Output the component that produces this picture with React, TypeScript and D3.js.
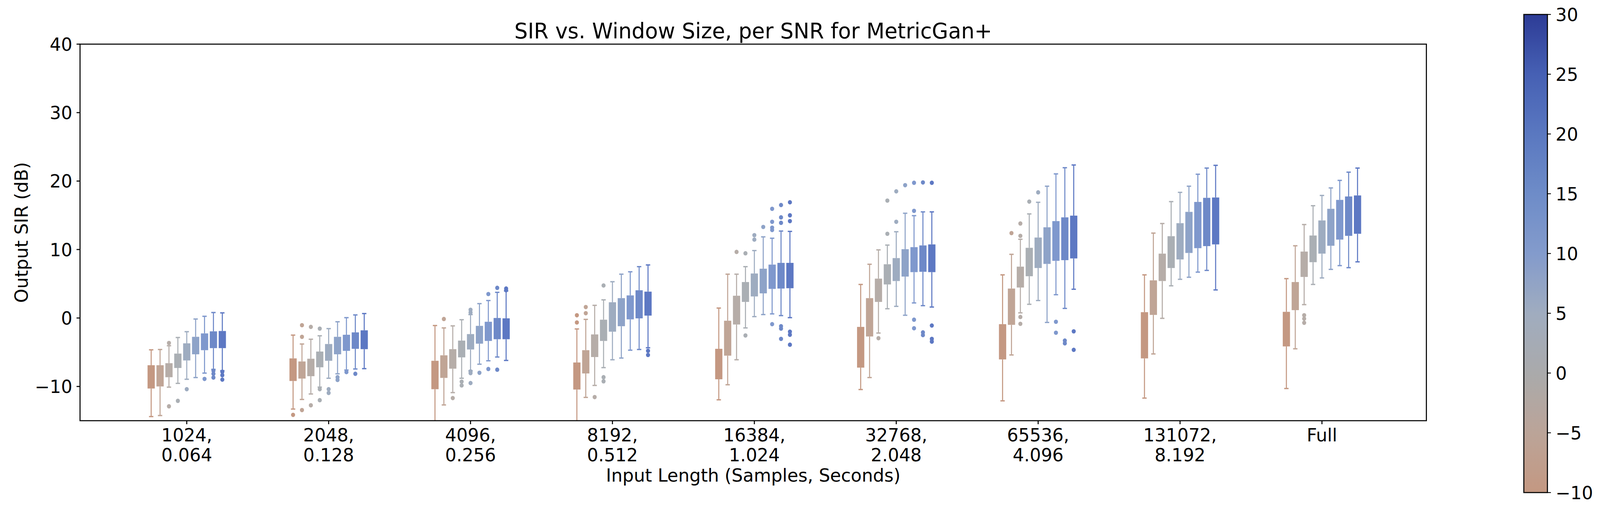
import React from "react";
import * as d3 from "d3";

// ---------- data ----------
const groupLines: string[][] = [
  ["1024,", "0.064"],
  ["2048,", "0.128"],
  ["4096,", "0.256"],
  ["8192,", "0.512"],
  ["16384,", "1.024"],
  ["32768,", "2.048"],
  ["65536,", "4.096"],
  ["131072,", "8.192"],
  ["Full"],
];

// one row per window size, one entry per SNR level (9 hue levels)
const whiskerLow: number[][] = [
  [-14.4, -14.25, -10.1, -9.55, -8.95, -8.7, -8.05, -7.5, -7.7],
  [-13.3, -11.9, -11.1, -10.1, -8.8, -8.15, -7.6, -7.45, -7.4],
  [-16, -12.7, -10.9, -8.8, -7.7, -6.75, -6.25, -5.7, -6.2],
  [-16, -11.6, -9.85, -7.25, -6.1, -5.85, -4.7, -4.6, -4.35],
  [-11.95, -9.75, -6.1, -1.45, 0.2, 0.5, 0.6, 0.35, 0.05],
  [-10.45, -8.7, -2.2, 1.35, 1.7, 0.4, 2.2, 1.8, 1.6],
  [-12.1, -5.4, 0.75, 2.0, 2.55, -0.65, 3.4, 1.4, 4.2],
  [-11.7, -5.25, -0.05, 4.7, 5.65, 5.95, 6.7, 6.95, 4.1],
  [-10.3, -4.5, 1.95, 4.9, 5.85, 7.1, 7.65, 7.35, 8.2],
];
const quartile1: number[][] = [
  [-10.3, -10.0, -8.65, -7.3, -6.2, -5.3, -4.7, -4.4, -4.4],
  [-9.2, -8.85, -8.5, -7.2, -6.25, -5.3, -4.8, -4.5, -4.55],
  [-10.4, -8.75, -7.4, -5.75, -4.6, -3.75, -3.35, -3.1, -3.1],
  [-10.45, -8.1, -5.7, -3.35, -2.0, -1.2, -0.2, -0.05, 0.35],
  [-8.95, -5.5, -0.95, 2.35, 3.15, 3.6, 4.25, 4.3, 4.35],
  [-7.25, -2.7, 2.35, 4.9, 5.4, 6.05, 6.7, 6.75, 6.7],
  [-6.05, -1.0, 4.45, 6.1, 7.3, 7.9, 8.35, 8.45, 8.7],
  [-5.9, 0.45, 5.4, 7.3, 8.55, 9.5, 10.2, 10.5, 10.75],
  [-4.15, 1.15, 6.0, 8.15, 9.4, 10.55, 11.45, 12.0, 12.3],
];
const quartile3: number[][] = [
  [-6.9, -6.9, -6.6, -5.2, -3.7, -2.75, -2.25, -1.95, -1.9],
  [-5.9, -6.35, -5.95, -4.9, -3.8, -2.75, -2.45, -2.1, -1.8],
  [-6.25, -5.45, -4.55, -3.3, -2.35, -1.15, -0.55, 0.0, -0.05],
  [-6.5, -4.7, -2.4, -0.25, 2.3, 2.9, 3.3, 4.05, 3.85],
  [-4.5, -0.4, 3.25, 5.25, 6.5, 7.2, 7.8, 8.05, 8.05],
  [-1.3, 2.9, 5.75, 7.85, 8.75, 10.05, 10.35, 10.6, 10.75],
  [-0.9, 4.3, 7.5, 10.25, 11.75, 13.25, 14.15, 14.7, 14.95],
  [0.85, 5.5, 9.4, 11.95, 13.85, 15.5, 16.95, 17.55, 17.6],
  [0.9, 5.25, 9.7, 12.05, 14.25, 15.95, 17.25, 17.75, 17.9],
];
const whiskerHigh: number[][] = [
  [-4.65, -4.6, -4.05, -2.85, -2.0, -0.15, 0.25, 0.8, 0.75],
  [-2.5, -3.8, -3.1, -2.6, -1.55, -0.55, 0.05, 0.45, 0.65],
  [-1.1, -1.45, -1.15, -0.25, 0.5, 2.1, 2.55, 3.75, 3.95],
  [-1.6, -0.2, 1.85, 2.65, 5.3, 6.4, 6.75, 7.5, 7.75],
  [1.45, 6.4, 6.4, 7.5, 9.85, 11.85, 11.65, 12.7, 12.65],
  [4.9, 7.85, 9.95, 10.65, 12.6, 15.3, 14.95, 15.5, 15.5],
  [6.3, 9.3, 11.5, 15.2, 16.9, 19.25, 21.05, 21.95, 22.35],
  [6.3, 12.4, 13.8, 17.0, 18.35, 19.25, 21.0, 21.9, 22.3],
  [5.75, 10.55, 13.65, 16.4, 17.9, 19.0, 20.1, 21.3, 21.9],
];
const outliers: number[][][] = [
  [[], [], [-3.65, -12.9], [-12.1], [-10.4], [], [-8.9], [-7.7, -8.15, -8.7], [-7.85, -8.35, -9.0]],
  [[-14.15], [-1.05, -2.75, -13.45], [-1.3, -12.75], [-1.55, -10.4, -12.0], [-10.4, -10.95], [-8.65, -9.05], [-7.9], [-8.15], []],
  [[], [-0.15], [-11.7], [-9.3, -9.85], [1.2, 0.8, -7.8, -8.05, -9.5], [-8.0], [3.5, -7.45], [4.4, -7.55], [4.3, 4.05]],
  [[0.4, -0.65], [1.6, 0.7], [-11.55], [4.75, -8.65, -9.25], [], [], [], [], [-4.8, -5.4]],
  [[], [], [9.65], [9.45, -2.55], [12.1, 11.45], [13.3], [15.95, 14.05, 13.2, 12.85, -0.9], [16.5, 14.7, 13.9, -1.2, -1.55, -3.05], [16.9, 15.0, 14.15, -2.0, -2.45, -3.9]],
  [[], [], [-2.95], [17.15, 12.3], [18.5, 14.05], [19.4], [19.75, 15.65, -0.25, -1.5], [19.8, -2.1, -2.5], [19.75, -1.1, -3.05, -3.45]],
  [[], [12.4], [13.8, 12.0, 0.15, -0.85], [17.0], [18.35], [], [-0.55, -2.15], [-3.3, -3.7], [-1.95, -4.65]],
  [[], [], [], [], [], [], [], [], []],
  [[], [], [0.4, -0.1, -0.7], [], [], [], [], [], []],
];

const yTicks = [-10, 0, 10, 20, 30, 40];
const colorbarTicks = [-10, -5, 0, 5, 10, 15, 20, 25, 30];
const colorbarColors = ["#c49882", "#bba498", "#aaaaab", "#a0acbf", "#839bcc", "#6e8cc8", "#5a78c0", "#4660b4", "#2d3c96"];
const huePalette = ["#c49882", "#c0a596", "#b6ada8", "#aaafb4", "#9eacc0", "#8ea3c8", "#7f98cd", "#6e89c8", "#5d78c3"];

// ---------- layout ----------
const W = 4138;
const H = 1321;
const PL = 207, PR = 3689, PT = 113, PB = 1077;
const FONT = "DejaVu Sans, sans-serif";
const FS = 46;

const x = d3.scaleLinear().domain([-0.752, 8.736]).range([PL, PR]);
const y = d3.scaleLinear().domain([-15, 40]).range([PB, PT]);
const hue = d3.scaleBand<number>().domain(d3.range(9)).range([-103.5, 103.5]).paddingInner(0.185).paddingOuter(0.0925);
const cbY = d3.scaleLinear().domain([-10, 30]).range([1261, 37]);
const cbColor = d3.scaleLinear<string>().domain(colorbarTicks).range(colorbarColors).interpolate(d3.interpolateRgb);

const fmt = (v: number) => (v < 0 ? "\u2212" + Math.abs(v) : String(v));

function Txt(props: { x: number; y: number; anchor?: string; size?: number; rotate?: number; children: React.ReactNode }) {
  const { x: tx, y: ty, anchor = "middle", size = FS, rotate = 0, children } = props;
  return (
    <text
      transform={`translate(${tx},${ty}) rotate(${rotate})`}
      textAnchor={anchor}
      fontSize={size}
      fontFamily={FONT}
      fill="#000"
    >
      {children}
    </text>
  );
}

export default function App() {
  const bw = hue.bandwidth();
  const boxes: React.ReactNode[] = [];
  groupLines.forEach((_, g) => {
    d3.range(9).forEach((k) => {
      const cx = x(g) + (hue(k) as number) + bw / 2;
      const c = huePalette[k];
      const capW = bw * 0.6;
      boxes.push(
        <g key={`b${g}-${k}`}>
          <line x1={cx} x2={cx} y1={y(quartile3[g][k])} y2={y(whiskerHigh[g][k])} stroke={c} strokeWidth={2.7} />
          <line x1={cx} x2={cx} y1={y(quartile1[g][k])} y2={y(whiskerLow[g][k])} stroke={c} strokeWidth={2.7} />
          <line x1={cx - capW / 2} x2={cx + capW / 2} y1={y(whiskerHigh[g][k])} y2={y(whiskerHigh[g][k])} stroke={c} strokeWidth={3.3} />
          <line x1={cx - capW / 2} x2={cx + capW / 2} y1={y(whiskerLow[g][k])} y2={y(whiskerLow[g][k])} stroke={c} strokeWidth={3.3} />
          <rect x={cx - bw / 2} y={y(quartile3[g][k])} width={bw} height={y(quartile1[g][k]) - y(quartile3[g][k])} fill={c} />
          {outliers[g][k].map((v, i) => (
            <ellipse key={i} cx={cx} cy={y(v)} rx={5.3} ry={5.6} fill={c} />
          ))}
        </g>
      );
    });
  });

  const gradStops = d3.range(0, 41).map((i) => {
    const v = -10 + i;
    return <stop key={i} offset={`${(i / 40) * 100}%`} stopColor={cbColor(v)} />;
  });

  return (
    <svg
      viewBox={`0 0 ${W} ${H}`}
      preserveAspectRatio="none"
      style={{ position: "fixed", left: 0, top: 0, width: "100vw", height: "100vh", background: "#fff", display: "block" }}
    >
      <defs>
        <clipPath id="plotclip">
          <rect x={PL} y={PT} width={PR - PL} height={PB - PT} />
        </clipPath>
        <linearGradient id="cbgrad" x1="0" y1="1" x2="0" y2="0">
          {gradStops}
        </linearGradient>
      </defs>
      <rect x={0} y={0} width={W} height={H} fill="#fff" />

      <g clipPath="url(#plotclip)">{boxes}</g>

      {/* spines */}
      <rect x={PL} y={PT} width={PR - PL} height={PB - PT} fill="none" stroke="#000" strokeWidth={2.7} />

      {/* y axis */}
      {yTicks.map((t) => (
        <g key={t}>
          <line x1={PL - 9} x2={PL} y1={y(t)} y2={y(t)} stroke="#000" strokeWidth={2.7} />
          <Txt x={PL - 20} y={y(t) + 16.7} anchor="end">{fmt(t)}</Txt>
        </g>
      ))}

      {/* x axis */}
      {groupLines.map((lines, g) => (
        <g key={g}>
          <line x1={x(g)} x2={x(g)} y1={PB} y2={PB + 9} stroke="#000" strokeWidth={2.7} />
          {lines.map((ln, i) => (
            <Txt key={i} x={x(g)} y={1130 + i * 51}>{ln}</Txt>
          ))}
        </g>
      ))}

      <Txt x={(PL + PR) / 2} y={1233}>Input Length (Samples, Seconds)</Txt>
      <Txt x={72} y={(PT + PB) / 2} rotate={-90}>Output SIR (dB)</Txt>
      <Txt x={(PL + PR) / 2} y={98} size={54.5}>SIR vs. Window Size, per SNR for MetricGan+</Txt>

      {/* colorbar */}
      <rect x={3941} y={cbY(30)} width={61} height={cbY(-10) - cbY(30)} fill="url(#cbgrad)" stroke="#000" strokeWidth={2.7} />
      {colorbarTicks.map((t) => (
        <g key={t}>
          <line x1={4002} x2={4011} y1={cbY(t)} y2={cbY(t)} stroke="#000" strokeWidth={2.2} />
          <Txt x={4023} y={cbY(t) + 16.7} anchor="start">{fmt(t)}</Txt>
        </g>
      ))}
    </svg>
  );
}
